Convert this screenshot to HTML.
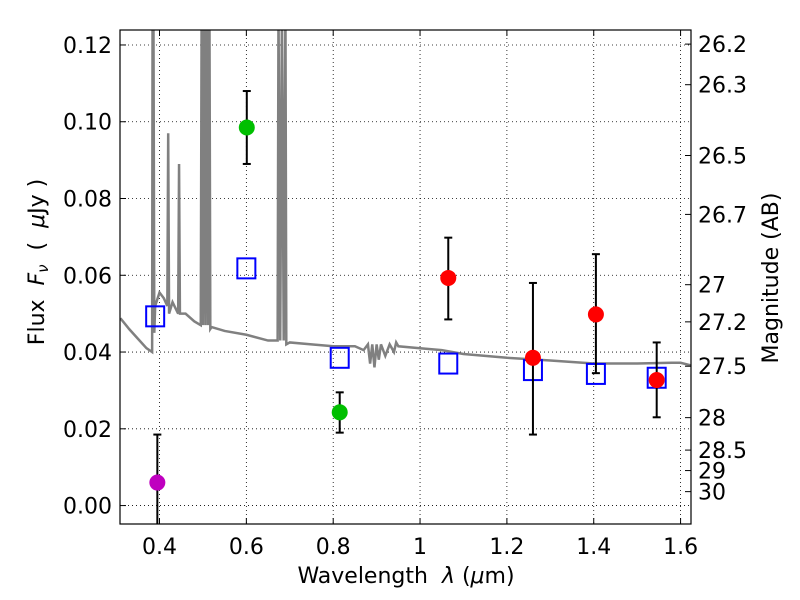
<!DOCTYPE html>
<html><head><meta charset="utf-8"><style>
body{margin:0;background:#fff}
svg{display:block;font-family:"DejaVu Sans","Liberation Sans",sans-serif}
</style></head><body>
<svg id="c" width="800" height="600" viewBox="0 0 800 600"></svg>
<script>
const xTicks=[0.4,0.6,0.8,1.0,1.2,1.4,1.6];
const xTickLabels=["0.4","0.6","0.8","1","1.2","1.4","1.6"];
const yTicks=[0.00,0.02,0.04,0.06,0.08,0.10,0.12];
const yTickLabels=["0.00","0.02","0.04","0.06","0.08","0.10","0.12"];
const magTicks=[26.2,26.3,26.5,26.7,27,27.2,27.5,28,28.5,29,30];
const magLabels=["26.2","26.3","26.5","26.7","27","27.2","27.5","28","28.5","29","30"];
const specWave=[0.31,0.33,0.35,0.37,0.383,0.384,0.386,0.388,0.39,0.40,0.41,0.418,0.42,0.422,0.43,0.443,0.445,0.447,0.46,0.48,0.495,0.497,0.5,0.503,0.506,0.509,0.512,0.515,0.517,0.52,0.55,0.6,0.65,0.672,0.674,0.678,0.682,0.686,0.69,0.692,0.7,0.75,0.8,0.85,0.87,0.88,0.885,0.89,0.895,0.90,0.905,0.91,0.92,0.93,0.94,0.945,0.95,1.0,1.05,1.1,1.15,1.2,1.3,1.4,1.5,1.58,1.6,1.624];
const specFlux=[0.0488,0.046,0.0435,0.041,0.040,0.13,0.13,0.045,0.052,0.0555,0.054,0.052,0.097,0.05,0.053,0.05,0.089,0.05,0.05,0.048,0.047,0.13,0.047,0.13,0.047,0.13,0.047,0.13,0.046,0.0465,0.0455,0.0445,0.043,0.043,0.13,0.043,0.13,0.043,0.13,0.042,0.0425,0.042,0.0415,0.0415,0.0405,0.042,0.037,0.042,0.036,0.042,0.038,0.042,0.039,0.042,0.040,0.0425,0.0415,0.041,0.0405,0.0395,0.039,0.0385,0.0378,0.037,0.037,0.0372,0.0372,0.0365];
const modelWave=[0.39,0.6,0.815,1.065,1.26,1.405,1.545];
const modelFlux=[0.0493,0.0618,0.0385,0.037,0.0353,0.0343,0.0333];
const obsWave=[0.395,0.601,0.815,1.065,1.26,1.405,1.545];
const obsFlux=[0.006,0.0985,0.0243,0.0593,0.0385,0.0498,0.0327];
const obsLo=[-0.01,0.089,0.019,0.0485,0.0185,0.0345,0.023];
const obsHi=[0.0185,0.108,0.0295,0.0698,0.058,0.0655,0.0425];
const obsColor=["#bf00bf","#00bf00","#00bf00","#ff0000","#ff0000","#ff0000","#ff0000"];

const L=120,R=691,T=30,B=524,X0=0.309,X1=1.624,Y0=-0.0048,Y1=0.1239;
const sx=v=>L+(v-X0)/(X1-X0)*(R-L);
const sy=v=>B-(v-Y0)/(Y1-Y0)*(B-T);
const svg=document.getElementById('c');const NS='http://www.w3.org/2000/svg';
function el(t,a,p){const e=document.createElementNS(NS,t);for(const k in a)e.setAttribute(k,a[k]);(p||svg).appendChild(e);return e;}
const clip=el('clipPath',{id:'cp'});el('rect',{x:L,y:T,width:R-L,height:B-T},clip);
const grid=el('g',{});
xTicks.forEach(v=>{el('line',{x1:sx(v),x2:sx(v),y1:T,y2:B,stroke:'#000','stroke-width':0.8,'stroke-dasharray':'1,3'},grid);});
yTicks.forEach(v=>{el('line',{x1:L,x2:R,y1:sy(v),y2:sy(v),stroke:'#000','stroke-width':0.8,'stroke-dasharray':'1,3'},grid);});
const spec=el('polyline',{points:specWave.map((w,i)=>sx(w)+','+sy(specFlux[i])).join(' '),fill:'none',stroke:'#808080','stroke-width':2.5,'clip-path':'url(#cp)'});

modelWave.forEach((w,i)=>{const r=el('rect',{x:sx(w)-9,y:sy(modelFlux[i])-10,width:18,height:20,fill:'none',stroke:'#0000ff','stroke-width':2});
});
obsWave.forEach((w,i)=>{const g=el('g',{'clip-path':'url(#cp)'});

const x=sx(w);el('line',{x1:x,x2:x,y1:sy(obsLo[i]),y2:sy(obsHi[i]),stroke:'#000','stroke-width':2},g);
el('line',{x1:x-4,x2:x+4,y1:sy(obsLo[i]),y2:sy(obsLo[i]),stroke:'#000','stroke-width':2},g);
el('line',{x1:x-4,x2:x+4,y1:sy(obsHi[i]),y2:sy(obsHi[i]),stroke:'#000','stroke-width':2},g);
el('circle',{cx:x,cy:sy(obsFlux[i]),r:8,fill:obsColor[i]},g);});
const fr=el('rect',{x:L,y:T,width:R-L,height:B-T,fill:'none',stroke:'#000','stroke-width':1.2});

xTicks.forEach((v,i)=>{el('line',{x1:sx(v),x2:sx(v),y1:B,y2:B-6,stroke:'#000'});el('line',{x1:sx(v),x2:sx(v),y1:T,y2:T+6,stroke:'#000'});
const t=el('text',{x:sx(v),y:B+30,'font-size':22,'text-anchor':'middle'});t.textContent=xTickLabels[i];
});
yTicks.forEach((v,i)=>{el('line',{x1:L,x2:L+6,y1:sy(v),y2:sy(v),stroke:'#000'});
const t=el('text',{x:L-8,y:sy(v)+8,'font-size':22,'text-anchor':'end'});t.textContent=yTickLabels[i];
});
magTicks.forEach((m,i)=>{const f=Math.pow(10,(23.9-m)/2.5);const y=sy(f);
el('line',{x1:R,x2:R-6,y1:y,y2:y,stroke:'#000'});
const t=el('text',{x:R+7,y:y+8,'font-size':22});t.textContent=magLabels[i];
});
const xl=el('text',{x:406,y:583,'font-size':22,'text-anchor':'middle','xml:space':'preserve'});xl.innerHTML='Wavelength\u00a0\u00a0<tspan font-style="italic">λ</tspan> (<tspan font-style="italic">μ</tspan>m)';

const yl=el('text',{x:44,y:262,'font-size':22,'text-anchor':'middle',transform:'rotate(-90 44 262)'});yl.innerHTML='Flux\u00a0\u00a0<tspan font-style="italic">F</tspan><tspan font-size="15" font-style="italic" dy="4">ν</tspan><tspan dy="-4">\u00a0\u00a0(\u00a0\u00a0</tspan><tspan font-style="italic">μ</tspan>Jy )';

const rl=el('text',{x:778,y:278,'font-size':22,'text-anchor':'middle',transform:'rotate(-90 778 278)'});rl.textContent='Magnitude (AB)';

</script>
</body></html>
